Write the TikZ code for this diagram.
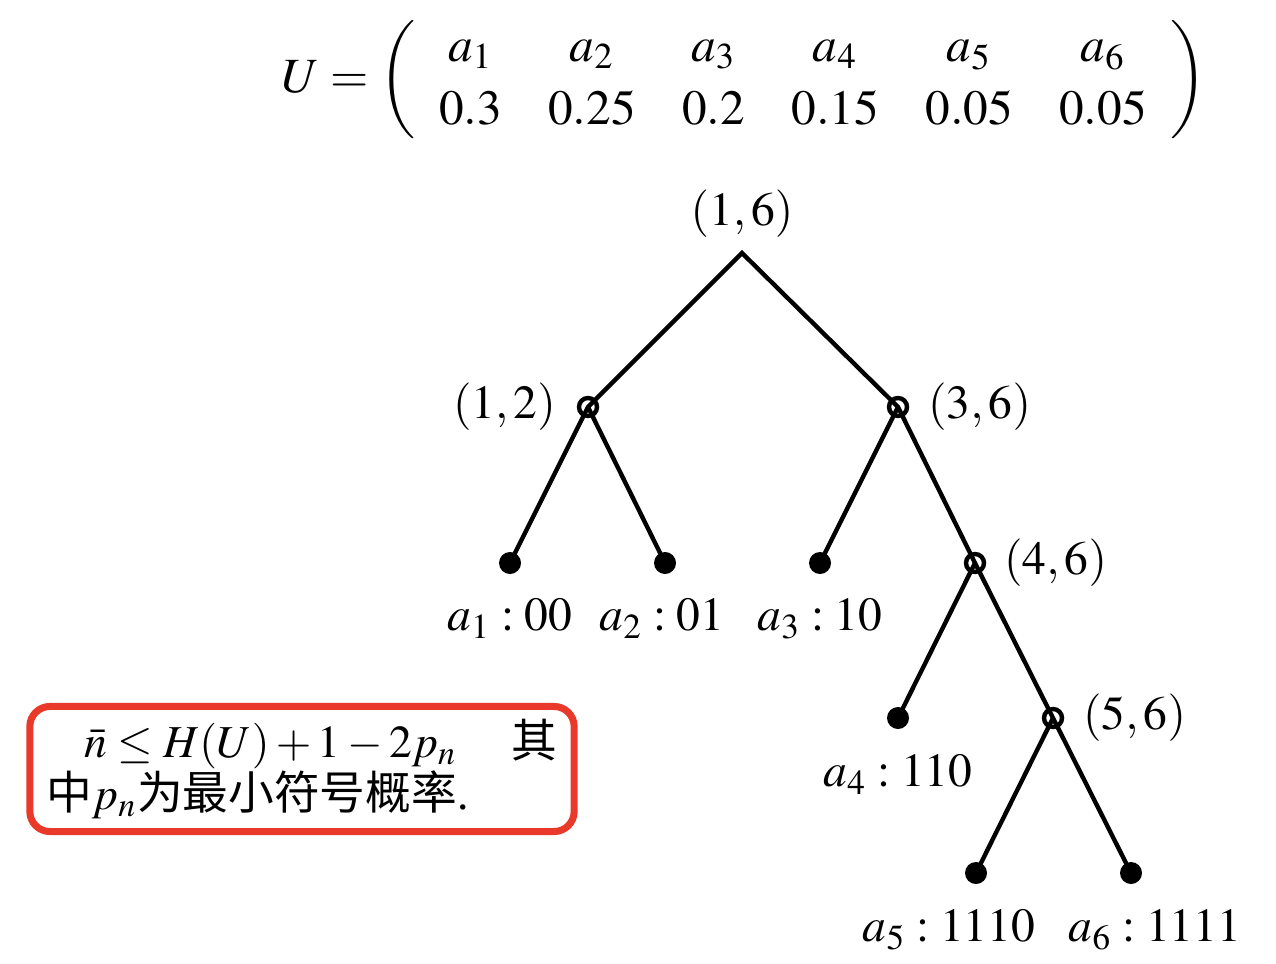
\documentclass[tikz,border=0pt]{standalone}
\usepackage{amsmath}
\usepackage{mathptmx}
\usepackage{fontspec}
\setmainfont{Liberation Serif}
\newfontfamily\cjk{Noto Sans CJK SC}
\usetikzlibrary{positioning}
\definecolor{boxred}{RGB}{232,57,42}

\begin{document}
\begin{tikzpicture}[x=0.01cm, y=-0.01cm, line width=1.25pt,
  tag/.style={inner sep=0pt, font=\fontsize{13.5}{16}\selectfont}]
\useasboundingbox (0,0) rectangle (1276,964);

% source
\node (U) at (744,80) {\fontsize{14}{16}\selectfont\delimitershortfall=14pt
  $U=\setlength\arraycolsep{6.6pt}\renewcommand\arraystretch{1.12}\left(\begin{array}{cccccc}
    a_1 & a_2 & a_3 & a_4 & a_5 & a_6\\
    0.3 & 0.25 & 0.2 & 0.15 & 0.05 & 0.05
  \end{array}\right)$};

% tree
\coordinate (r)   at (742,253);
\coordinate (n12) at (588,407);
\coordinate (n36) at (898,407);
\coordinate (a1)  at (510,563);
\coordinate (a2)  at (665,563);
\coordinate (a3)  at (820,563);
\coordinate (n46) at (975,563);
\coordinate (a4)  at (898,718);
\coordinate (n56) at (1053,718);
\coordinate (a5)  at (976,873);
\coordinate (a6)  at (1131,873);

\draw (a1) -- (n12) -- (r) -- (n36) -- (n46) -- (n56) -- (a6);
\draw (n12) -- (a2);
\draw (n36) -- (a3);
\draw (n46) -- (a4);
\draw (n56) -- (a5);

\foreach \p in {a1,a2,a3,a4,a5,a6}
       \fill [black] (\p) circle (0.11cm);
\foreach \p in {n12,n36,n46,n56}
       \draw (\p) circle (0.09cm);

\node (t16) [tag, above=0.13cm of r]   {$(1,6)$};
\node (t12) [tag, left=0.30cm of n12]  {$(1,2)$};
\node (t36) [tag, right=0.28cm of n36] {$(3,6)$};
\node (t46) [tag, right=0.27cm of n46] {$(4,6)$};
\node (t56) [tag, right=0.28cm of n56] {$(5,6)$};

\node (c1) [tag, below=0.34cm of a1] {$a_1 : 00$};
\node (c2) [tag, below=0.34cm of a2, xshift=-0.03cm] {$a_2 : 01$};
\node (c3) [tag, below=0.34cm of a3] {$a_3 : 10$};
\node (c4) [tag, below=0.35cm of a4] {$a_4 : 110$};
\node (c5) [tag, below=0.35cm of a5, xshift=-0.27cm] {$a_5 : 1110$};
\node (c6) [tag, below=0.35cm of a6, xshift=0.24cm] {$a_6 : 1111$};

% bound
\node (note) [draw=boxred, line width=2pt, rounded corners=0.2cm,
  minimum width=5.44cm, minimum height=1.25cm, inner xsep=0.165cm,
  text width=5.11cm, align=left, font=\fontsize{13}{15}\selectfont]
  at (302,769)
  {\hspace*{0.38cm}$\bar{n}\le H(U)+1-2p_n$\hfill{\cjk 其}\\
   {\cjk 中}$p_n${\cjk 为最小符号概率}.};
\end{tikzpicture}
\end{document}
